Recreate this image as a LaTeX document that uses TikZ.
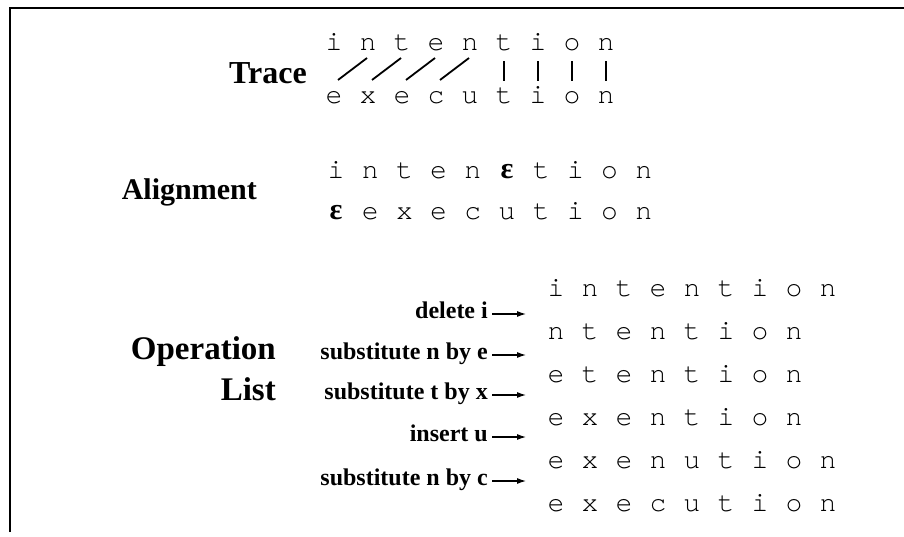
\documentclass[tikz,border=0pt]{standalone}
\usepackage{fontspec}
\setmainfont{Liberation Serif}
\newfontfamily\cour{texgyrecursor-regular.otf}
\newfontfamily\symf{Liberation Serif}
\newcommand\myeps{{\symf\bfseries\fontsize{30}{32}\selectfont ε}}
\usetikzlibrary{arrows.meta}
\begin{document}
\begin{tikzpicture}[x=1pt,y=-1pt,
  head/.style={font=\fontsize{30}{36}\selectfont\bfseries, anchor=base east, inner sep=0pt},
  bighead/.style={head, font=\fontsize{33}{38}\selectfont\bfseries},
  oplab/.style={font=\fontsize{24}{28}\selectfont\bfseries, anchor=base east, inner sep=0pt},
  ch/.style={font=\cour\fontsize{28}{32}\selectfont, anchor=base, inner sep=0pt},
  link/.style={line width=1.8pt},
  oparrow/.style={line width=1.1pt, -{Latex[length=9pt,width=6pt]}},
  framel/.style={line width=1.2pt}]
\useasboundingbox (0,0) rectangle (904,536);
\draw[framel] (10,532) -- (10,8) -- (904,8);

% Headers
\node[head, font=\fontsize{32}{36}\selectfont\bfseries] (trace) at (307,83) {Trace};
\node[head] (align) at (257,199) {Alignment};
\node[bighead] (oper) at (276,359) {Operation};
\node[bighead] (list) at (276,400) {List};

% Trace
\foreach \c [count=\k] in {i,n,t,e,n,t,i,o,n}
  \node[ch] (t\k) at ({334+34*(\k-1)},50) {\c};
\foreach \c [count=\k] in {e,x,e,c,u,t,i,o,n}
  \node[ch] (b\k) at ({334+34*(\k-1)},103) {\c};
\foreach \k in {1,...,4}{
  \pgfmathtruncatemacro\kk{\k+1}
  \draw[link] ([xshift=-1pt,yshift=-8pt]t\kk.base) -- ([xshift=4pt,yshift=23pt]b\k.base);
}
\foreach \k in {6,...,9}
  \draw[link] ([yshift=-11pt]t\k.base) -- ([yshift=22pt]b\k.base);

% Alignment
\foreach \c [count=\k] in {i,n,t,e,n,\myeps,t,i,o,n}
  \node[ch] (a\k) at ({336+34.2*(\k-1)},178) {\c};
\foreach \c [count=\k] in {\myeps,e,x,e,c,u,t,i,o,n}
  \node[ch] (c\k) at ({336+34.2*(\k-1)},219) {\c};

% Operation list rows
\foreach \w [count=\r] in {{i,n,t,e,n,t,i,o,n},{n,t,e,n,t,i,o,n},{e,t,e,n,t,i,o,n},{e,x,e,n,t,i,o,n},{e,x,e,n,u,t,i,o,n},{e,x,e,c,u,t,i,o,n}}{
  \foreach \c [count=\k] in \w
    \node[ch] (o\r-\k) at ({556+34*(\k-1)},{296+43*(\r-1)}) {\c};
}

% Operation labels
\node[oplab] (d1) at (488,318) {delete i};
\node[oplab] (d2) at (488,359) {substitute n by e};
\node[oplab] (d3) at (488,399) {substitute t by x};
\node[oplab] (d4) at (488,441) {insert u};
\node[oplab] (d5) at (488,485) {substitute n by c};
\foreach \i in {1,...,5}{
  \coordinate (e\i) at ([xshift=38pt,yshift=4pt]d\i.base east);
  \draw[oparrow] ([xshift=4pt,yshift=4pt]d\i.base east) -- (e\i);
}
\end{tikzpicture}
\end{document}
